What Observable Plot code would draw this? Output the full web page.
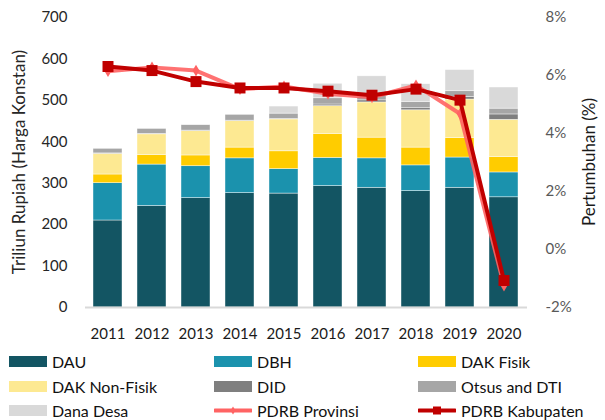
<!DOCTYPE html>
<html><head><meta charset="utf-8">
<script src="https://cdn.jsdelivr.net/npm/d3@7"></script>
<script src="https://cdn.jsdelivr.net/npm/@observablehq/plot@0.6"></script>
<style>
body{margin:0;background:#fff;font-family:Lato,"Open Sans",sans-serif;}
#wrap{position:relative;width:605px;height:420px;overflow:hidden;}
#chart svg{display:block;}
.leg{position:absolute;display:flex;align-items:center;font-size:16px;line-height:16px;color:#111;white-space:nowrap;height:11px;}
.sw{width:38px;height:11px;margin-right:5px;flex:none;}
</style></head><body><div id="wrap"><div id="chart"></div></div>
<script>
const years = [2011, 2012, 2013, 2014, 2015, 2016, 2017, 2018, 2019, 2020];
const dau         = [210, 245, 264, 276, 275, 293, 289, 281, 289, 266];
const dbh         = [90, 100, 77, 84, 59, 68, 71, 62, 73, 60];
const dakFisik    = [21, 23, 26, 26, 43, 58, 50, 43, 47, 37];
const dakNonFisik = [50, 50, 59, 64, 77, 67, 85, 90, 93, 90];
const did         = [1, 1, 1, 1, 1, 4, 5, 5, 6, 13];
const otsus       = [11, 12, 13, 14, 13, 15, 10, 15, 14, 14];
const danaDesa    = [0, 0, 0, 0, 17, 35, 48, 43, 51, 51];
const pdrbProvinsi  = [6.15, 6.28, 6.17, 5.53, 5.62, 5.37, 5.25, 5.66, 4.68, -1.24];
const pdrbKabupaten = [6.31, 6.17, 5.79, 5.57, 5.57, 5.46, 5.32, 5.53, 5.15, -1.07];
const seriesNames = ["DAU", "DBH", "DAK Fisik", "DAK Non-Fisik", "DID", "Otsus and DTI", "Dana Desa"];
const seriesColors = ["#135563", "#1b92ad", "#ffcc00", "#fde992", "#7f7f7f", "#a6a6a6", "#d9d9d9"];
const leftTicks = [0, 100, 200, 300, 400, 500, 600, 700];
const rightTicks = [-2, 0, 2, 4, 6, 8];
const rightDomain = [-2, 8];
const leftDomain = [0, 700];

const seriesValues = [dau, dbh, dakFisik, dakNonFisik, did, otsus, danaDesa];
const barData = [];
years.forEach((yr, i) => seriesNames.forEach((s, j) => barData.push({year: yr, series: s, value: seriesValues[j][i]})));
// map growth % onto the left scale
const toLeft = p => (p - rightDomain[0]) / (rightDomain[1] - rightDomain[0]) * (leftDomain[1] - leftDomain[0]) + leftDomain[0];
const prov = years.map((yr, i) => ({year: yr, v: toLeft(pdrbProvinsi[i])}));
const kab = years.map((yr, i) => ({year: yr, v: toLeft(pdrbKabupaten[i])}));

const plot = Plot.plot({
  width: 605, height: 345,
  marginTop: 17, marginBottom: 38, marginLeft: 85, marginRight: 78,
  style: {fontFamily: "Lato, 'Open Sans', sans-serif", fontSize: "15px", background: "transparent", color: "#1a1a1a"},
  x: {type: "band", domain: years, paddingInner: 0.34, paddingOuter: 0.17, label: null},
  y: {domain: leftDomain, label: null},
  color: {domain: seriesNames, range: seriesColors},
  marks: [
    Plot.barY(barData, {x: "year", y: "value", fill: "series", stroke: "#ffffff", strokeWidth: 0.6, strokeOpacity: 0.7}),
    Plot.ruleY([0], {stroke: "#d9d9d9", strokeWidth: 2}),
    Plot.axisX({tickSize: 0, tickPadding: 21, label: null, fill: "#1a1a1a", tickFormat: d => String(d)}),
    Plot.axisY({ticks: leftTicks, tickSize: 0, tickPadding: 18, label: null, fill: "#262626"}),
    Plot.axisY(rightTicks.map(toLeft), {anchor: "right", tickSize: 0, tickPadding: 18, label: null, fill: "#595959",
      tickFormat: v => Math.round((v - leftDomain[0]) / (leftDomain[1] - leftDomain[0]) * (rightDomain[1] - rightDomain[0]) + rightDomain[0]) + "%"}),
    Plot.line(prov, {x: "year", y: "v", stroke: "#ff6363", strokeWidth: 4, strokeOpacity: 0.9}),
    Plot.dot(prov, {x: "year", y: "v", symbol: "diamond", r: 3.6, fill: "#ff6363", stroke: "none"}),
    Plot.line(kab, {x: "year", y: "v", stroke: "#c00000", strokeWidth: 4}),
    Plot.dot(kab, {x: "year", y: "v", symbol: "square", r: 6.2, fill: "#c00000", stroke: "none"})
  ]
});
document.getElementById("chart").appendChild(plot);
const svg = d3.select(plot);
svg.append("text").text("Triliun Rupiah (Harga Konstan)")
  .attr("transform", "translate(18,162) rotate(-90)")
  .attr("text-anchor", "middle").attr("dominant-baseline", "central")
  .attr("font-size", 17).attr("fill", "#262626");
svg.append("text").text("Pertumbuhan (%)")
  .attr("transform", "translate(588,162) rotate(-90)")
  .attr("text-anchor", "middle").attr("dominant-baseline", "central")
  .attr("font-size", 17).attr("fill", "#1a1a1a");

// legend
const legendItems = [
  {name: "DAU", type: "box", color: seriesColors[0]},
  {name: "DBH", type: "box", color: seriesColors[1]},
  {name: "DAK Fisik", type: "box", color: seriesColors[2]},
  {name: "DAK Non-Fisik", type: "box", color: seriesColors[3]},
  {name: "DID", type: "box", color: seriesColors[4]},
  {name: "Otsus and DTI", type: "box", color: seriesColors[5]},
  {name: "Dana Desa", type: "box", color: seriesColors[6]},
  {name: "PDRB Provinsi", type: "diamond", color: "#ff6363"},
  {name: "PDRB Kabupaten", type: "square", color: "#c00000"}
];
const colX = [9, 214, 418];
const rowY = [356, 381, 405];
const wrap = document.getElementById("wrap");
legendItems.forEach((it, k) => {
  const d = document.createElement("div");
  d.className = "leg";
  d.style.left = colX[k % 3] + "px";
  d.style.top = rowY[Math.floor(k / 3)] + "px";
  let sw;
  if (it.type === "box") {
    sw = `<div class="sw" style="background:${it.color}"></div>`;
  } else if (it.type === "diamond") {
    sw = `<svg class="sw" width="38" height="11" viewBox="0 0 38 11"><line x1="1" x2="37" y1="5.5" y2="5.5" stroke="${it.color}" stroke-width="4" stroke-linecap="round"/><path d="M19,1.5 L21.5,5.5 L19,9.5 L16.5,5.5Z" fill="${it.color}"/></svg>`;
  } else {
    sw = `<svg class="sw" width="38" height="11" viewBox="0 0 38 11"><line x1="1" x2="37" y1="5.5" y2="5.5" stroke="${it.color}" stroke-width="4" stroke-linecap="round"/><rect x="15" y="1.5" width="8" height="8" fill="${it.color}"/></svg>`;
  }
  d.innerHTML = sw + `<span>${it.name}</span>`;
  wrap.appendChild(d);
});
</script>
</body></html>
